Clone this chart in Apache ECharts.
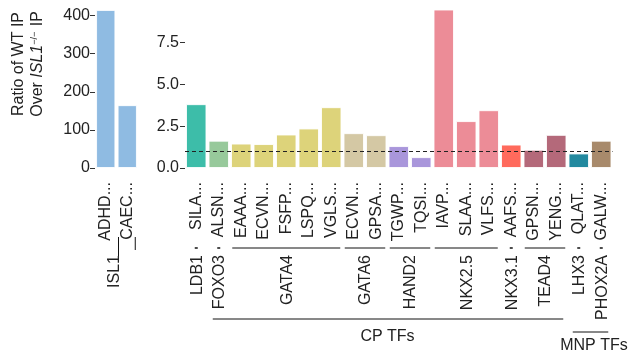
<!DOCTYPE html>
<html><head><meta charset="utf-8">
<script src="https://cdn.jsdelivr.net/npm/echarts@6/dist/echarts.min.js"></script>
<style>html,body{margin:0;padding:0;background:#fff}#c{width:630px;height:356px}</style>
</head><body><div id="c"></div>
<script>
// ---- data ----
const leftCategories = ['ADHD...', 'CAEC...'];
const leftValues = [415, 165];
const leftGroupName = 'ISL1';
const leftColor = '#8FBBE2';
const leftTicks = [0, 100, 200, 300, 400];

const rightCategories = ['SILA...', 'ALSN...', 'EAAA...', 'ECVN...', 'FSFP...', 'LSPQ...', 'VGLS...',
  'ECVN...', 'GPSA...', 'TGWP...', 'TQSI...', 'IAVP...', 'SLAA...', 'VLFS...', 'AAFS...',
  'GPSN...', 'YENG...', 'QLAT...', 'GALW...'];
const rightValues = [3.81, 1.63, 1.46, 1.43, 2.0, 2.36, 3.63, 2.08, 1.96, 1.31, 0.65, 9.46,
  2.8, 3.45, 1.40, 1.09, 1.98, 0.87, 1.63];
const groupNames = ['LDB1', 'FOXO3', 'GATA4', 'GATA6', 'HAND2', 'NKX2.5', 'NKX3.1', 'TEAD4', 'LHX3', 'PHOX2A'];
const groupSizes = [1, 1, 5, 2, 2, 3, 1, 2, 1, 1];
const groupColors = ['#3DBDA9', '#97C99B', '#DDD37A', '#D4C8A4', '#A996DB', '#EC8C97', '#FF6A5C', '#B4697A', '#22899F', '#A88A6B'];
const rightTicks = [0, 2.5, 5, 7.5];
const superGroupNames = ['CP TFs', 'MNP TFs'];
const superGroupRanges = [[1, 16], [17, 18]];
const refLineValue = 1;

// ---- build ----
const FONT = '"Liberation Sans", Arial, sans-serif';
const barColors = [];
groupSizes.forEach((n, g) => { for (let k = 0; k < n; k++) barColors.push(groupColors[g]); });

const yAxisCommon = {
  type: 'value', min: 0,
  axisLine: { show: false },
  axisTick: { show: true, length: 5, lineStyle: { color: '#333', width: 1 } },
  splitLine: { show: false },
  axisLabel: { fontSize: 16, color: '#222', margin: 6, fontFamily: FONT }
};
const xAxisCommon = {
  type: 'category',
  axisLine: { show: false },
  axisTick: { show: false },
  axisLabel: { rotate: 90, interval: 0, margin: 14, fontSize: 16, color: '#222', fontFamily: FONT }
};

const chart = echarts.init(document.getElementById('c'), null, { renderer: 'canvas' });
chart.setOption({
  animation: false,
  backgroundColor: '#fff',
  grid: [
    { left: 95, top: 8, width: 43, height: 160 },
    { left: 185, top: 8, width: 427.5, height: 160 }
  ],
  xAxis: [
    Object.assign({}, xAxisCommon, { gridIndex: 0, data: leftCategories.map((c, i) => 'l' + i),
      axisLabel: Object.assign({}, xAxisCommon.axisLabel, { formatter: (v, i) => leftCategories[i] }) }),
    Object.assign({}, xAxisCommon, { gridIndex: 1, data: rightCategories.map((c, i) => 'r' + i),
      axisLabel: Object.assign({}, xAxisCommon.axisLabel, { formatter: (v, i) => rightCategories[i] }) })
  ],
  yAxis: [
    Object.assign({}, yAxisCommon, { gridIndex: 0, max: 420,
      axisTick: Object.assign({}, yAxisCommon.axisTick, { customValues: leftTicks }),
      axisLabel: Object.assign({}, yAxisCommon.axisLabel, { customValues: leftTicks, margin: 5 }) }),
    Object.assign({}, yAxisCommon, { gridIndex: 1, max: 9.55,
      axisTick: Object.assign({}, yAxisCommon.axisTick, { customValues: rightTicks }),
      axisLabel: Object.assign({}, yAxisCommon.axisLabel, { customValues: rightTicks, formatter: v => v.toFixed(1) }) })
  ],
  series: [
    { type: 'bar', xAxisIndex: 0, yAxisIndex: 0, barCategoryGap: '10%',
      data: leftValues.map(v => ({ value: v, itemStyle: { color: leftColor } })),
      itemStyle: { borderColor: 'rgba(255,255,255,0.85)', borderWidth: 1 } },
    { type: 'bar', xAxisIndex: 1, yAxisIndex: 1, barCategoryGap: '9%',
      data: rightValues.map((v, i) => ({ value: v, itemStyle: { color: barColors[i] } })),
      itemStyle: { borderColor: 'rgba(255,255,255,0.85)', borderWidth: 1 },
      markLine: { silent: true, symbol: 'none', label: { show: false },
        lineStyle: { color: '#222', width: 1.2, type: [4, 3] },
        data: [{ yAxis: refLineValue }] } }
  ]
});

// ---- annotation layer (brackets, group labels, axis title) ----
const px = (axis, idx) => chart.convertToPixel({ xAxisIndex: axis }, idx);
const g = [];
const lineEl = (x1, y1, x2, y2, w) => ({ type: 'line', silent: true,
  shape: { x1, y1, x2, y2 }, style: { stroke: '#111', lineWidth: w || 1 } });
const vText = (x, y, text) => ({ type: 'text', silent: true, x, y, rotation: Math.PI / 2,
  style: { text, font: '16px ' + FONT, fill: '#222', align: 'right', verticalAlign: 'middle' } });
const hText = (x, y, text) => ({ type: 'text', silent: true, x, y,
  style: { text, font: '16px ' + FONT, fill: '#222', align: 'center', verticalAlign: 'middle' } });

const BR_Y = 248, GL_Y = 255;
let start = 0;
groupSizes.forEach((n, gi) => {
  const a = px(1, start), b = px(1, start + n - 1);
  if (n > 1) g.push(lineEl(a - 9, BR_Y, b + 9, BR_Y));
  else g.push(lineEl(a - 1.5, BR_Y, a + 1.5, BR_Y, 1.5));
  g.push(vText((a + b) / 2 + 1, GL_Y, groupNames[gi]));
  start += n;
});
// left group
const la = px(0, 0), lb = px(0, leftCategories.length - 1);
g.push(lineEl((la + lb) / 2 + 2, 237, (la + lb) / 2 + 2, 257));
g.push(lineEl(lb + 8, 237, lb + 8, 250));
g.push(vText((la + lb) / 2 - 2, GL_Y, leftGroupName));
// super groups
const sgY = [319, 332], sgT = [337, 346];
superGroupNames.forEach((name, si) => {
  const a = px(1, superGroupRanges[si][0]), b = px(1, superGroupRanges[si][1]);
  g.push(lineEl(a - 6, sgY[si], b + 7, sgY[si]));
  g.push(hText((a + b) / 2 + (si === 1 ? 4 : 0), sgT[si], name));
});
// y-axis title
g.push({ type: 'text', silent: true, x: 19, y: 64, rotation: Math.PI / 2,
  style: { text: 'Ratio of WT IP', font: '16px ' + FONT, fill: '#222', align: 'center', verticalAlign: 'middle' } });
g.push({ type: 'text', silent: true, x: 38, y: 64, rotation: Math.PI / 2,
  style: { text: 'Over {i|ISL1}{s|−/−} IP', font: '16px ' + FONT, fill: '#222', align: 'center', verticalAlign: 'middle',
    rich: { i: { fontStyle: 'italic', fontSize: 16, fontFamily: FONT, fill: '#222' },
            s: { fontSize: 9, fontFamily: FONT, fill: '#222', verticalAlign: 'top', padding: [0, 1, 7, 0] } } } });
chart.setOption({ graphic: { elements: g } });
</script>
</body></html>
